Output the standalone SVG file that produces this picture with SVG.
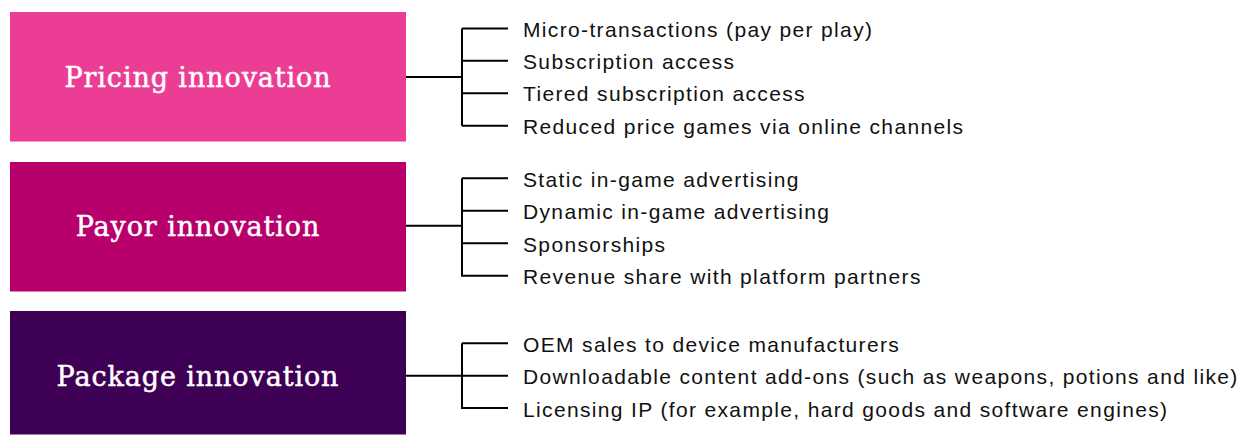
<svg xmlns="http://www.w3.org/2000/svg" width="1260" height="435" viewBox="0 0 1260 435">
<style>
.title{font-family:"DejaVu Serif","Liberation Serif",serif;font-size:27px;letter-spacing:0.9px;fill:#fff;stroke:#fff;stroke-width:0.5;text-anchor:middle}
.item{font-family:"Liberation Sans",Arial,sans-serif;font-size:21px;letter-spacing:1.35px;fill:#111}
.conn{stroke:#000;stroke-width:2;fill:none}
</style>
<rect width="1260" height="435" fill="#fff"/>
<g id="pricing">
<rect x="10" y="12" width="396" height="129.5" fill="#EC3D95"/>
<text class="title" x="198" y="87">Pricing innovation</text>
</g>
<g id="payor">
<rect x="10" y="162" width="396" height="129.5" fill="#B7006C"/>
<text class="title" x="198" y="236">Payor innovation</text>
</g>
<g id="package">
<rect x="10" y="311" width="396" height="123.5" fill="#3E0054"/>
<text class="title" x="198" y="386">Package innovation</text>
</g>
<g id="connectors">
<path class="conn" d="M406 77H462M462 28.5V126M462 28.5H508M462 60.7H508M462 93.3H508M462 125.7H508"/>
<path class="conn" d="M406 225.7H462M462 178.3V276.7M462 178.3H508M462 210.7H508M462 243.3H508M462 275.7H508"/>
<path class="conn" d="M406 375.7H462M462 343.3V409M462 343.3H508M462 375.7H508M462 408H508"/>
</g>
<g id="items">
<text class="item" x="523" y="37">Micro-transactions (pay per play)</text>
<text class="item" x="523" y="69">Subscription access</text>
<text class="item" x="523" y="101">Tiered subscription access</text>
<text class="item" x="523" y="134">Reduced price games via online channels</text>
<text class="item" x="523" y="187">Static in-game advertising</text>
<text class="item" x="523" y="219">Dynamic in-game advertising</text>
<text class="item" x="523" y="252">Sponsorships</text>
<text class="item" x="523" y="284">Revenue share with platform partners</text>
<text class="item" x="523" y="352">OEM sales to device manufacturers</text>
<text class="item" x="523" y="384">Downloadable content add-ons (such as weapons, potions and like)</text>
<text class="item" x="523" y="417">Licensing IP (for example, hard goods and software engines)</text>
</g>
</svg>
